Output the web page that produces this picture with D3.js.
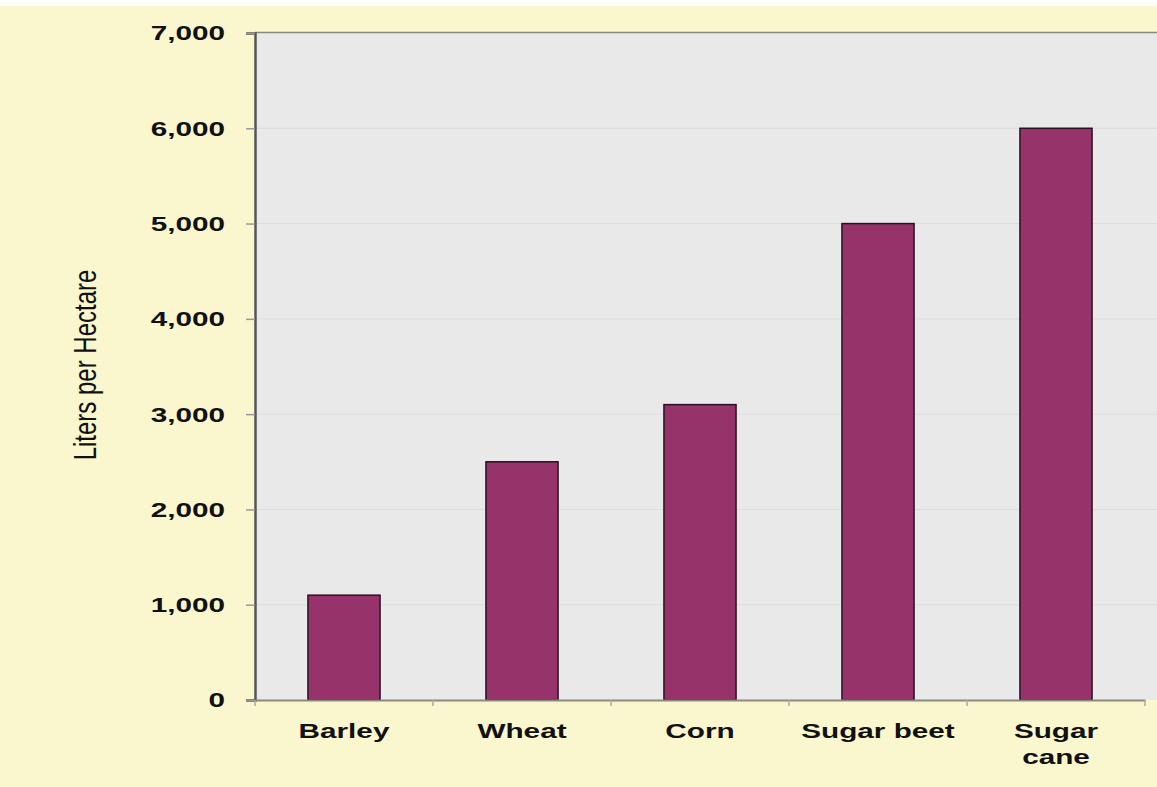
<!DOCTYPE html>
<html><head><meta charset="utf-8">
<script src="https://cdn.jsdelivr.net/npm/d3@7"></script>
<style>html,body{margin:0;padding:0;background:#fff;}svg{display:block;}</style>
</head><body>
<svg id="c" width="1157" height="787"></svg>
<script>
const categories = ["Barley", "Wheat", "Corn", "Sugar beet", "Sugar cane"];
const values = [1100, 2500, 3100, 5000, 6000];
const yTicks = [0, 1000, 2000, 3000, 4000, 5000, 6000, 7000];
const yTitle = "Liters per Hectare";

const svg = d3.select("#c");
const W = 1157, H = 787;
const m = {top: 33, left: 255, bottom: 700, right: 1145};
const SX = 1.45; // horizontal stretch of the lettering in the reference
const FONT = "Liberation Sans, Arial, sans-serif";

svg.append("rect").attr("x", 0).attr("y", 6).attr("width", W).attr("height", H - 6).attr("fill", "#FAF6CE");

const x = d3.scaleBand().domain(categories).range([m.left, m.right]).paddingInner(0).paddingOuter(0);
const y = d3.scaleLinear().domain([0, 7000]).range([m.bottom, m.top]);

// plot area
svg.append("rect").attr("x", m.left).attr("y", m.top).attr("width", W - m.left).attr("height", m.bottom - m.top).attr("fill", "#E9E9E9");
svg.append("line").attr("x1", m.left).attr("x2", W).attr("y1", m.top - 0.5).attr("y2", m.top - 0.5).attr("stroke", "#8a8a80").attr("stroke-width", 1.5);

// gridlines
svg.append("g").selectAll("line").data(yTicks.slice(1, -1)).join("line")
  .attr("x1", m.left).attr("x2", W).attr("y1", d => y(d)).attr("y2", d => y(d))
  .attr("stroke", "#dcdcdc").attr("stroke-width", 1);

// bars
const bw = x.bandwidth() * 0.405;
svg.append("g").selectAll("rect").data(values).join("rect")
  .attr("x", (d, i) => x(categories[i]) + (x.bandwidth() - bw) / 2)
  .attr("y", d => y(d))
  .attr("width", bw)
  .attr("height", d => y(0) - y(d))
  .attr("fill", "#96336B")
  .attr("stroke", "#2a1020").attr("stroke-width", 1.5);

// y axis (line + ticks via d3 axis, labels stretched)
const ya = d3.axisLeft(y).tickValues(yTicks).tickFormat("").tickSize(9);
const gy = svg.append("g").attr("transform", `translate(${m.left},0)`).call(ya);
gy.select(".domain").attr("stroke", "#555").attr("stroke-width", 2.5);
gy.selectAll(".tick line").attr("stroke", "#999").attr("stroke-width", 1.5);
const fmt = d3.format(",");
svg.append("g").selectAll("text").data(yTicks).join("text")
  .attr("transform", d => `translate(225,${y(d)}) scale(${SX},1)`)
  .attr("text-anchor", "end").attr("dy", "0.36em")
  .attr("font-family", FONT).attr("font-weight", "bold")
  .attr("font-size", 20.5).attr("fill", "#111")
  .text(d => fmt(d));

// x axis
const xa = d3.axisBottom(x).tickSize(0).tickFormat("");
const gx = svg.append("g").attr("transform", `translate(0,${m.bottom})`).call(xa);
gx.select(".domain").attr("stroke", "#8a8a80").attr("stroke-width", 2);
const bounds = categories.map(c => x(c)).concat([m.right]);
gx.append("g").selectAll("line").data(bounds).join("line")
  .attr("x1", d => d).attr("x2", d => d).attr("y1", 0).attr("y2", 6)
  .attr("stroke", "#aaa").attr("stroke-width", 1.5);

const labelLines = categories.map(c => c === "Sugar cane" ? ["Sugar", "cane"] : [c]);
gx.append("g").selectAll("text").data(categories).join("text")
  .attr("transform", d => `translate(${x(d) + x.bandwidth() / 2},38) scale(${SX},1)`)
  .attr("text-anchor", "middle")
  .attr("font-family", FONT).attr("font-weight", "bold")
  .attr("font-size", 20.5).attr("fill", "#111")
  .each(function(d, i) {
    const t = d3.select(this);
    labelLines[i].forEach((ln, k) => t.append("tspan").attr("x", 0).attr("dy", k === 0 ? 0 : 26).text(ln));
  });

// y title
svg.append("text")
  .attr("transform", `translate(96,365) rotate(-90) scale(1,1.3)`)
  .attr("text-anchor", "middle")
  .attr("font-family", FONT)
  .attr("font-size", 24).attr("fill", "#111")
  .text(yTitle);
</script>
</body></html>
